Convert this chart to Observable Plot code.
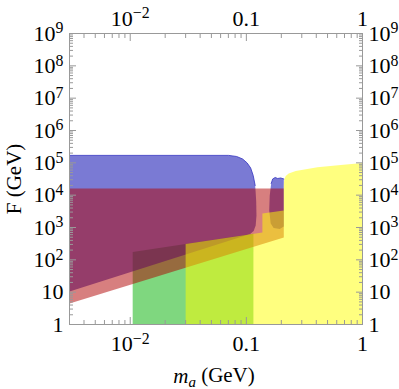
<!DOCTYPE html>
<html><head><meta charset="utf-8">
<script src="https://cdn.jsdelivr.net/npm/d3@7"></script>
<script src="https://cdn.jsdelivr.net/npm/@observablehq/plot@0.6"></script>
<style>body{margin:0;background:#fff;overflow:hidden} svg{display:block}</style>
</head><body>
<script>
// Tick values and labels
const xMajorTicks = [0.01, 0.1, 1];
const xTickLabels = ["10^\u22122", "0.1", "1"];
const yMajorTicks = [1, 1e1, 1e2, 1e3, 1e4, 1e5, 1e6, 1e7, 1e8, 1e9];
const yTickLabels = ["1", "10", "10^2", "10^3", "10^4", "10^5", "10^6", "10^7", "10^8", "10^9"];
const minorMultipliers = [2, 3, 4, 5, 6, 7, 8, 9];
const xDecades = [0.001, 0.01, 0.1];
const yDecades = [1, 1e1, 1e2, 1e3, 1e4, 1e5, 1e6, 1e7, 1e8];

// Excluded regions: [m_a (GeV), F (GeV)]
const greenRegion = [[0.0105, 1], [0.0105, 175], [0.115, 640], [0.115, 1]];
const blueRegion = [
  [0.003, 1.7e5], [0.0704, 1.7e5], [0.0825, 1.57e5], [0.0929, 1.315e5], [0.1016, 9.9e4],
  [0.1089, 6.93e4], [0.1145, 4.06e4], [0.1191, 1.99e4], [0.1215, 6.85e3], [0.1222, 2.35e3],
  [0.1203, 1150], [0.1156, 780], [0.1079, 630], [0.003, 10.5]
];
const blueBump = [
  [0.1636, 2.3e4], [0.1685, 3.17e4], [0.177, 3.52e4], [0.1862, 3.28e4], [0.1975, 3.4e4],
  [0.21, 3.17e4], [0.21, 1070], [0.1937, 899], [0.1718, 966], [0.162, 1330],
  [0.1573, 3360], [0.1589, 9770]
];
const redRegion = [[0.003, 1.6e4], [0.21, 1.6e4], [0.21, 490], [0.003, 4.47]];
const yellowRegion = [
  [0.03, 1], [0.03, 309], [0.1374, 700], [0.1374, 2710], [0.21, 3340], [0.21, 2.0e4],
  [0.2118, 3.05e4], [0.2182, 3.92e4], [0.2315, 4.68e4], [0.266, 5.6e4], [0.409, 7.3e4],
  [0.65, 8.6e4], [1, 9.8e4], [1, 1]
];

const xMinorTicks = xDecades.flatMap(d => minorMultipliers.map(m => d * m)).filter(v => v >= 0.003 && v <= 1);
const yMinorTicks = yDecades.flatMap(d => minorMultipliers.map(m => d * m));
const fmtX = d => xTickLabels[xMajorTicks.indexOf(d)];
const fmtY = d => yTickLabels[yMajorTicks.indexOf(d)];

const region = (data, fill, opacity) => Plot.line(data, {
  x: d => d[0], y: d => d[1], fill, fillOpacity: opacity, stroke: "none", curve: "linear-closed"
});
const edgeStyle = {x: d => d[0], y: d => d[1], stroke: "#3434c0", strokeWidth: 1, strokeOpacity: 0.8};
const frameColor = "#999";
const serif = "Liberation Serif, serif";

const svg = Plot.plot({
  width: 399, height: 389,
  marginLeft: 69, marginRight: 37, marginTop: 33, marginBottom: 65,
  x: {type: "log", domain: [0.003, 1]},
  y: {type: "log", domain: [1, 1e9]},
  style: {fontFamily: serif, fontSize: "22px", color: "black", background: "white"},
  marks: [
    region(greenRegion, "#00b000", 0.5),
    region(blueRegion, "#2121b7", 0.6),
    region(blueBump, "#2121b7", 0.6),
    region(redRegion, "#b00000", 0.5),
    region(yellowRegion, "#ffff00", 0.5),
    Plot.line(blueRegion.slice(0, 8), edgeStyle),
    Plot.line(blueBump.slice(0, 6), edgeStyle),
    Plot.frame({stroke: frameColor}),
    Plot.axisX(xMinorTicks, {anchor: "bottom", tickSize: -4, tickFormat: () => "", stroke: frameColor, label: null}),
    Plot.axisX(xMinorTicks, {anchor: "top", tickSize: -4, tickFormat: () => "", stroke: frameColor, label: null}),
    Plot.axisY(yMinorTicks, {anchor: "left", tickSize: -4, tickFormat: () => "", stroke: frameColor, label: null}),
    Plot.axisY(yMinorTicks, {anchor: "right", tickSize: -4, tickFormat: () => "", stroke: frameColor, label: null}),
    Plot.axisX(xMajorTicks, {anchor: "bottom", tickSize: -7, tickPadding: 18, tickFormat: fmtX, stroke: frameColor, fill: "black", label: null}),
    Plot.axisX(xMajorTicks, {anchor: "top", tickSize: -7, tickPadding: 15, tickFormat: fmtX, stroke: frameColor, fill: "black", label: null}),
    Plot.axisY(yMajorTicks, {anchor: "left", tickSize: -7, tickPadding: 13, tickFormat: fmtY, stroke: frameColor, fill: "black", label: null}),
    Plot.axisY(yMajorTicks, {anchor: "right", tickSize: -7, tickPadding: 13, tickFormat: fmtY, stroke: frameColor, fill: "black", label: null})
  ]
});

// tick label font and superscripts for labels like 10^5
d3.select(svg).selectAll("text").each(function () {
  const el = d3.select(this);
  el.attr("font-size", 22).attr("font-family", serif);
  const t = this.textContent;
  const i = t.indexOf("^");
  if (i < 0) return;
  el.text(null);
  el.append("tspan").text(t.slice(0, i));
  el.append("tspan").attr("dy", "-0.45em").attr("font-size", "0.72em").text(t.slice(i + 1));
});

// axis titles
const s = d3.select(svg);
const xt = s.append("text").attr("x", 214).attr("y", 383).attr("text-anchor", "middle")
  .attr("font-family", serif).attr("font-size", 21).attr("fill", "black");
xt.append("tspan").attr("font-style", "italic").text("m");
xt.append("tspan").attr("font-style", "italic").attr("font-size", 15).attr("dy", "0.25em").text("a");
xt.append("tspan").attr("dy", "-0.25em").text(" (GeV)");
s.append("text").attr("transform", "translate(21,179) rotate(-90)").attr("text-anchor", "middle")
  .attr("font-family", serif).attr("font-size", 21).attr("fill", "black")
  .text("F (GeV)");

document.body.appendChild(svg);
</script>
</body></html>
